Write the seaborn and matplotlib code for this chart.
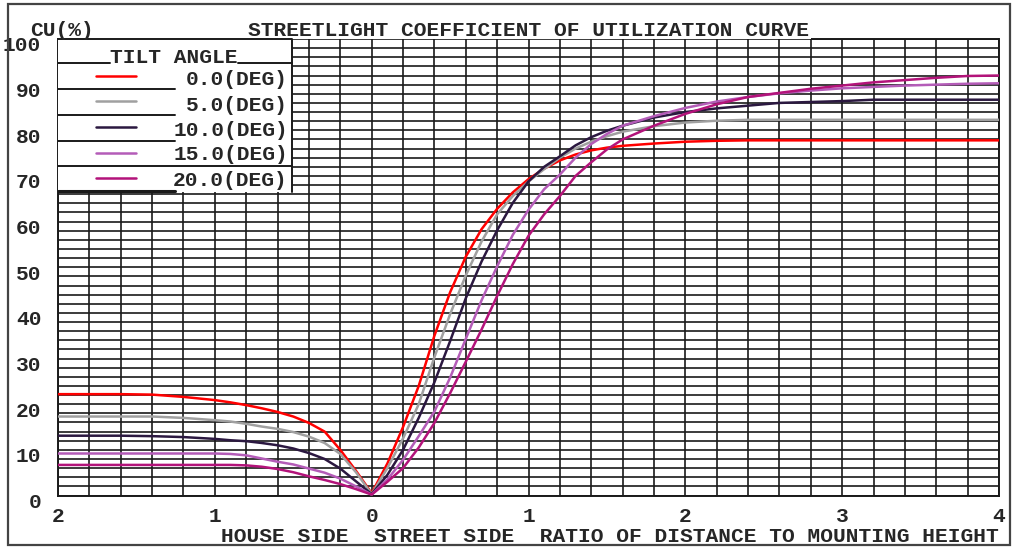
import numpy as np
import pandas as pd
import seaborn as sns
import matplotlib.pyplot as plt
from matplotlib.patches import Rectangle
from matplotlib.transforms import ScaledTranslation

# tilt angles and their colours
tilt_labels = ["0.0(DEG)", "5.0(DEG)", "10.0(DEG)", "15.0(DEG)", "20.0(DEG)"]
colors = ["#FF0000", "#A0A0A0", "#2B1840", "#B45CB8", "#B3137A"]

# house side: ratio of distance (drawn to the left of 0)
house_x = [0, 0.1, 0.2, 0.3, 0.4, 0.5, 0.6, 0.7, 0.8, 0.9, 1.0, 1.2, 1.4, 1.6, 1.8, 2.0]
house_cu_0 = [0.5, 5.4, 10.0, 14.0, 15.9, 17.3, 18.3, 19.1, 19.8, 20.4, 20.9, 21.6, 22.1, 22.2, 22.2, 22.2]
house_cu_5 = [0.3, 5.1, 9.1, 11.5, 12.9, 13.9, 14.6, 15.1, 15.7, 16.2, 16.5, 17.0, 17.3, 17.3, 17.3, 17.3]
house_cu_10 = [0.3, 3.1, 5.9, 8.0, 9.3, 10.3, 11.0, 11.5, 11.9, 12.1, 12.4, 12.8, 13.0, 13.1, 13.1, 13.1]
house_cu_15 = [0.2, 2.0, 3.7, 5.0, 5.9, 6.8, 7.4, 8.1, 8.8, 9.1, 9.2, 9.2, 9.2, 9.2, 9.2, 9.2]
house_cu_20 = [0.2, 1.4, 2.5, 3.4, 4.2, 5.1, 5.8, 6.3, 6.6, 6.7, 6.7, 6.7, 6.7, 6.7, 6.7, 6.7]

# street side
street_x = [0, 0.1, 0.2, 0.3, 0.4, 0.5, 0.6, 0.7, 0.8, 0.9, 1.0, 1.1, 1.2, 1.3, 1.4, 1.5, 1.6,
            1.8, 2.0, 2.2, 2.4, 2.6, 2.8, 3.0, 3.2, 3.4, 3.6, 3.8, 4.0]
street_cu_0 = [0.5, 7.0, 15.0, 24.0, 35.0, 44.5, 52.3, 58.3, 62.8, 66.4, 69.3, 71.6, 73.4, 74.7, 75.6, 76.2, 76.6,
               77.1, 77.5, 77.7, 77.8, 77.8, 77.8, 77.8, 77.8, 77.8, 77.8, 77.8, 77.8]
street_cu_5 = [0.3, 6.0, 12.5, 20.0, 30.3, 39.7, 48.2, 55.6, 61.6, 65.6, 68.8, 71.5, 74.0, 76.0, 77.5, 78.7, 79.7,
               80.9, 81.7, 82.1, 82.3, 82.3, 82.3, 82.3, 82.3, 82.3, 82.3, 82.3, 82.3]
street_cu_10 = [0.3, 4.5, 10.0, 17.0, 24.8, 33.8, 43.2, 51.2, 58.1, 64.1, 68.8, 72.0, 74.3, 76.7, 78.5, 79.9, 81.0,
                82.8, 84.0, 84.8, 85.4, 86.0, 86.2, 86.4, 86.7, 86.7, 86.7, 86.7, 86.7]
street_cu_15 = [0.2, 3.5, 7.8, 13.0, 18.4, 25.8, 34.3, 42.7, 50.2, 57.1, 62.6, 67.1, 70.3, 74.0, 77.0, 79.2, 81.0,
                83.1, 84.9, 86.3, 87.3, 88.1, 88.7, 89.2, 89.5, 89.8, 90.0, 90.2, 90.3]
street_cu_20 = [0.2, 3.0, 6.0, 10.5, 15.9, 22.4, 29.3, 36.3, 43.7, 50.7, 56.9, 61.6, 65.6, 70.0, 73.0, 75.8, 78.0,
                81.0, 83.6, 85.7, 87.3, 88.2, 89.1, 89.8, 90.5, 91.0, 91.5, 91.9, 92.0]

house_cu = [house_cu_0, house_cu_5, house_cu_10, house_cu_15, house_cu_20]
street_cu = [street_cu_0, street_cu_5, street_cu_10, street_cu_15, street_cu_20]

x_tick_labels = ["2", "1", "0", "1", "2", "3", "4"]

rows = []
for lab, hc, sc in zip(tilt_labels, house_cu, street_cu):
    # house side mirrored to negative x, then street side (0 shared)
    for hx, hv in zip(house_x[::-1], hc[::-1]):
        rows.append({"x": -hx, "cu": hv, "tilt": lab})
    for sx, sv in zip(street_x[1:], sc[1:]):
        rows.append({"x": sx, "cu": sv, "tilt": lab})
df = pd.DataFrame(rows)

sns.set_style("white")
plt.rcParams['font.family'] = ['Liberation Mono', 'DejaVu Sans Mono']
plt.rcParams['font.weight'] = 'bold'
FS = 15.3
GRID = "#1a1a1a"

fig = plt.figure(figsize=(10.16, 5.49), dpi=100)
W, H = 1016, 549
ax = fig.add_axes([58 / W, 1 - 495.5 / H, (999 - 58) / W, (495.5 - 39) / H])

sns.lineplot(data=df, x="x", y="cu", hue="tilt", hue_order=tilt_labels, palette=colors,
             sort=False, estimator=None, linewidth=1.8, legend=False, ax=ax, zorder=3)

ax.set_xlim(-2, 4)
ax.set_ylim(0, 100)

# grid: every 0.2 in x, every 2 in y
xt = np.round(np.arange(-2, 4.001, 0.2), 1)
yt = np.arange(0, 101, 2)
ax.set_xticks(xt)
ax.set_yticks(yt)
ax.set_xticklabels([x_tick_labels[int(round(v)) + 2] if abs(v - round(v)) < 1e-6 else "" for v in xt],
                   fontsize=FS, fontweight='bold')
ax.set_yticklabels([str(v) if v % 10 == 0 else "" for v in yt], fontsize=FS, fontweight='bold')
ax.tick_params(axis='both', length=0)
ax.tick_params(axis='x', pad=8)
ax.tick_params(axis='y', pad=12)
for lbl in ax.get_yticklabels():
    lbl.set_transform(lbl.get_transform() + ScaledTranslation(0, -5 / 100, fig.dpi_scale_trans))
ax.grid(True, color=GRID, linewidth=1.2)
ax.set_axisbelow(True)
ax.set_xlabel("")
ax.set_ylabel("")

for side in ["left", "right", "bottom"]:
    ax.spines[side].set_color(GRID)
    ax.spines[side].set_linewidth(1.4)
ax.spines["top"].set_visible(False)
ax.hlines(100, 2.8, 4, color=GRID, linewidth=1.4, clip_on=False)

# legend box built by hand
lx0, lx1 = -2, -0.508
ax.add_patch(Rectangle((lx0, 66.5), lx1 - lx0, 33.5, facecolor="white", edgecolor="none", zorder=5))
ax.plot([lx0, lx1, lx1], [100, 100, 66.5], color=GRID, lw=1.4, zorder=6, clip_on=False)
ax.text(-1.26, 96.0, "TILT ANGLE", ha="center", va="center", fontsize=FS, fontweight='bold', zorder=7)
ax.plot([lx0, -1.669], [94.8, 94.8], color=GRID, lw=1.4, zorder=6)
ax.plot([-0.853, lx1], [94.8, 94.8], color=GRID, lw=1.4, zorder=6)
sample_y = [92.0, 86.4, 80.8, 75.1, 69.5]
text_y = [91.2, 85.5, 79.9, 74.8, 69.1]
sep_y = [89.0, 83.35, 77.7, 72.2, 66.8]
sep_end = [-1.255, -1.255, -1.255, lx1, -1.255]
for lab, c, sy, ty, yy, xe in zip(tilt_labels, colors, sample_y, text_y, sep_y, sep_end):
    ax.plot([-1.758, -1.503], [sy, sy], color=c, lw=1.8, zorder=7)
    ax.text(-0.534, ty, lab, ha="right", va="center", fontsize=FS, fontweight='bold', zorder=7)
    ax.plot([lx0, xe], [yy, yy], color=GRID, lw=1.4 if yy > 67 else 2.2, zorder=6)

# texts outside the axes
fig.text(62 / W, 1 - 30 / H, "CU(%)", ha="center", va="center", fontsize=FS, fontweight='bold')
fig.text(529 / W, 1 - 30 / H, "STREETLIGHT COEFFICIENT OF UTILIZATION CURVE",
         ha="center", va="center", fontsize=FS, fontweight='bold')
fig.text(999 / W, 1 - 536 / H, "HOUSE SIDE  STREET SIDE  RATIO OF DISTANCE TO MOUNTING HEIGHT",
         ha="right", va="center", fontsize=FS, fontweight='bold')

# outer frame
fig.patches.append(Rectangle((8 / W, 1 - 545 / H), (1010 - 8) / W, (545 - 4) / H,
                             transform=fig.transFigure, fill=False, edgecolor="#444444", linewidth=1.6))

fig.savefig("out.png", dpi=100)
